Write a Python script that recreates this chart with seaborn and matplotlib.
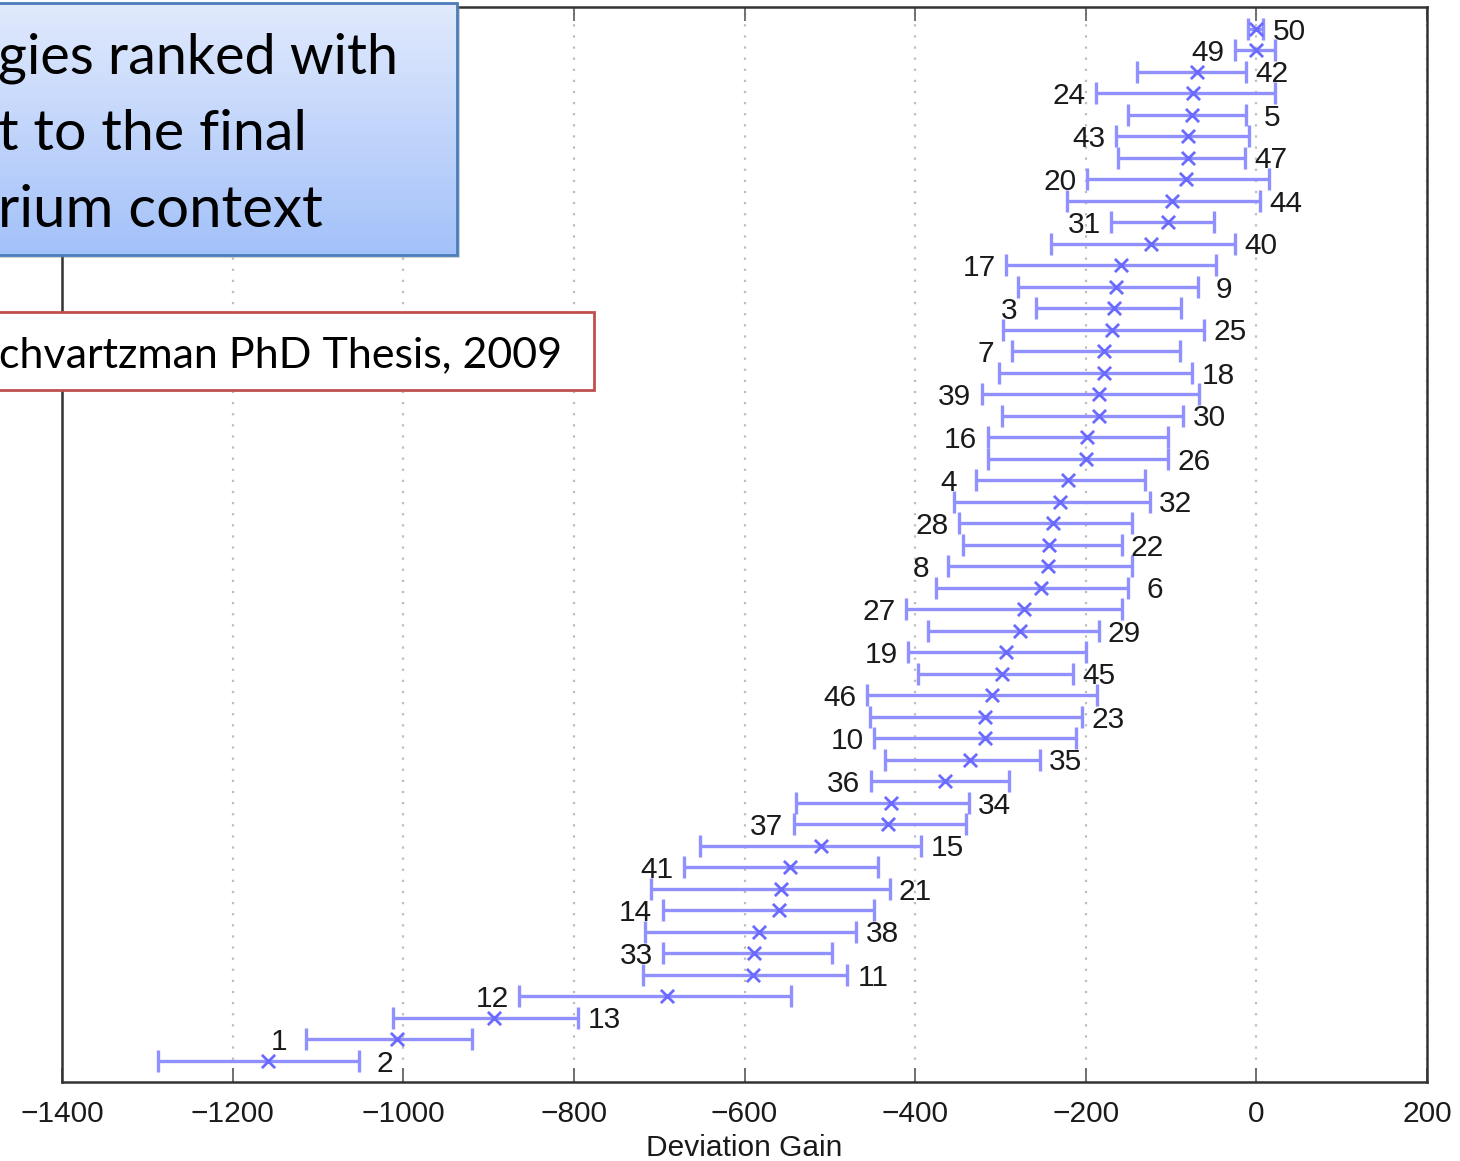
import numpy as np
import pandas as pd
import matplotlib
matplotlib.use("Agg")
import matplotlib.pyplot as plt
import seaborn as sns
from matplotlib.patches import Rectangle
from matplotlib.colors import LinearSegmentedColormap

# Strategies, listed from the top row of the chart to the bottom row
strategy = [50, 49, 42, 24, 5, 43, 47, 20, 44, 31, 40, 17, 9, 3, 25, 7, 18, 39, 30, 16,
            26, 4, 32, 28, 22, 8, 6, 27, 29, 19, 45, 46, 23, 10, 35, 36, 34, 37, 15, 41,
            21, 14, 38, 33, 11, 12, 13, 1, 2]

# Mean deviation gain of each strategy
gain_mean = [0, -1, -70, -74, -76, -80, -80, -82, -99, -104, -124, -159, -165, -167, -169,
             -179, -179, -184, -184, -199, -200, -221, -230, -238, -243, -244, -252, -272,
             -277, -293, -298, -310, -318, -318, -336, -365, -428, -432, -510, -547, -557,
             -560, -583, -589, -590, -691, -894, -1007, -1159]

# Lower and upper ends of each interval
gain_low = [-10, -25, -140, -188, -151, -165, -162, -198, -222, -170, -241, -293, -280, -258,
            -297, -286, -302, -322, -298, -315, -315, -329, -355, -348, -344, -362, -375,
            -411, -385, -408, -397, -456, -453, -448, -435, -452, -540, -542, -652, -671,
            -710, -696, -717, -695, -719, -864, -1012, -1114, -1287]
gain_high = [8, 22, -12, 22, -12, -9, -13, 15, 4, -50, -25, -47, -68, -88, -61, -90, -75, -67,
             -86, -104, -104, -130, -125, -146, -158, -146, -150, -157, -185, -200, -215,
             -187, -204, -211, -254, -290, -337, -340, -393, -444, -430, -448, -469, -497,
             -480, -545, -795, -919, -1052]

x_ticks = [-1400, -1200, -1000, -800, -600, -400, -200, 0, 200]

title_lines = ["gies ranked with", "t to the final", "rium context"]
title_widths = [399, 309, 325]
source_note = "chvartzman PhD Thesis, 2009"

n = len(strategy)
df = pd.DataFrame({
    "strategy": strategy,
    "mean": gain_mean,
    "low": gain_low,
    "high": gain_high,
})
df["row"] = np.arange(n, 0, -1)

sns.set_style("white")
plt.rcParams["font.family"] = ["Liberation Sans", "DejaVu Sans"]

W, H = 1460, 1161
fig = plt.figure(figsize=(W / 100, H / 100), dpi=100)
ax = fig.add_axes([62 / W, 1 - 1082 / H, 1365 / W, 1075 / H])

bar_color = "#9090ff"
ax.errorbar(df["mean"], df["row"],
            xerr=[df["mean"] - df["low"], df["high"] - df["mean"]],
            fmt="none", ecolor=bar_color, elinewidth=2.4, capsize=8, capthick=2.4,
            zorder=2)
sns.scatterplot(data=df, x="mean", y="row", marker="x", s=90, color="#6a6aff",
                linewidth=2.0, ax=ax, zorder=3, legend=False)

# strategy numbers alternate between the right and left ends of the intervals
for i, rec in df.iterrows():
    if i % 2 == 0:
        ax.annotate(str(rec["strategy"]), xy=(rec["high"], rec["row"]), xytext=(26, -3),
                    textcoords="offset pixels", ha="center", va="center",
                    fontsize=21.5, color="#1a1a1a")
    else:
        ax.annotate(str(rec["strategy"]), xy=(rec["low"], rec["row"]), xytext=(-27, -3),
                    textcoords="offset pixels", ha="center", va="center",
                    fontsize=21.5, color="#1a1a1a")

ax.set_xlim(-1400, 200)
ax.set_ylim(0, n + 1)
ax.set_xticks(x_ticks)
ax.set_yticks([])
ax.xaxis.grid(True, linestyle=(0, (1, 4)), color="#bdbdbd", linewidth=1.6)
ax.yaxis.grid(False)
ax.set_axisbelow(True)
for sp in ax.spines.values():
    sp.set_visible(True)
    sp.set_color("#333333")
    sp.set_linewidth(1.8)
ax.tick_params(axis="x", direction="in", length=10, width=1.3, color="#666666",
               top=True, bottom=True, labelsize=21.5, pad=13, labelcolor="#1a1a1a")
ax.set_xlabel("Deviation Gain", fontsize=21.5, labelpad=4, color="#1a1a1a")
ax.set_ylabel("")

# overlay in figure pixel coordinates for the callout boxes
ov = fig.add_axes([0, 0, 1, 1])
ov.set_zorder(10)
ov.patch.set_alpha(0)
ov.axis("off")

# blue gradient callout with a soft shadow
ov.add_patch(Rectangle((-7, 6), 467, 252, facecolor="#808080", alpha=0.35,
                       edgecolor="none", zorder=1))
grad = np.linspace(0, 1, 256).reshape(-1, 1)
cmap = LinearSegmentedColormap.from_list("callout", ["#e1eafd", "#a3c1f9"])
ov.imshow(grad, cmap=cmap, aspect="auto", extent=(-10, 457, 255, 3),
          origin="upper", zorder=2, interpolation="bilinear")
ov.add_patch(Rectangle((-10, 3), 467, 252, fill=False, edgecolor="#4a7ebb",
                       linewidth=2, zorder=3))

# white callout with red border
ov.add_patch(Rectangle((-10, 312), 604, 78, facecolor="white", edgecolor="#c0504d",
                       linewidth=2, zorder=3))

ov.set_xlim(0, W)
ov.set_ylim(H, 0)

box_font = ["Lato", "DejaVu Sans"]
title_texts = []
for k, line in enumerate(title_lines):
    t = ov.text(-2, 73 + 77 * k, line, fontsize=40, family=box_font, color="black",
                ha="left", va="baseline", zorder=4)
    title_texts.append(t)
note = ov.text(-1, 367, source_note, fontsize=34, family=box_font, color="black",
               ha="left", va="baseline", zorder=4)

# size the callout text to the width of the boxes
renderer = fig.canvas.get_renderer()
for _ in range(2):
    for t, target in zip(title_texts, title_widths):
        w = t.get_window_extent(renderer).width
        t.set_fontsize(t.get_fontsize() * target / w)
    w = note.get_window_extent(renderer).width
    note.set_fontsize(note.get_fontsize() * 563 / w)

fig.savefig("out.png", dpi=100)
